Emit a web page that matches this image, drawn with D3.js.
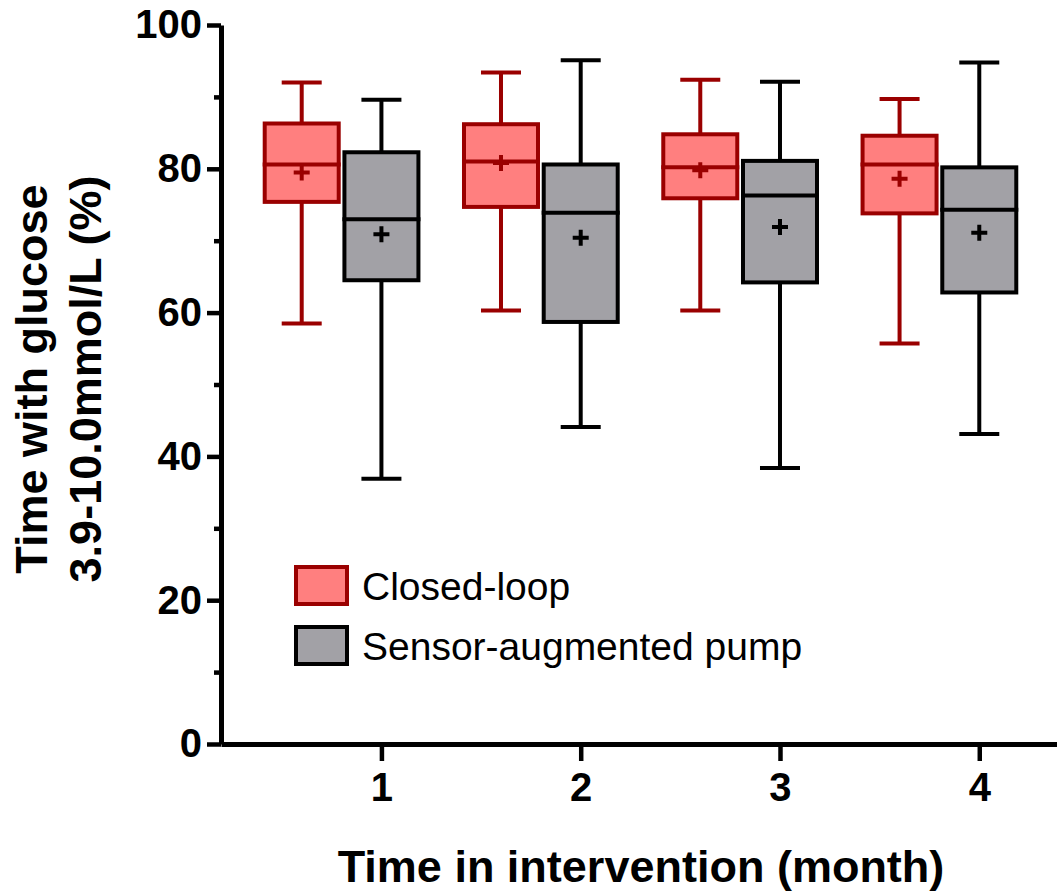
<!DOCTYPE html>
<html>
<head>
<meta charset="utf-8">
<script src="https://cdn.jsdelivr.net/npm/d3@7"></script>
<style>
  body { margin: 0; background: #fff; }
  svg { display: block; font-family: "Liberation Sans", Arial, sans-serif; }
</style>
</head>
<body>
<svg id="chart" width="1057" height="894"></svg>
<script>
const months = [1, 2, 3, 4];

// closed-loop boxes
const closedMin = [58.5, 60.3, 60.3, 55.7];
const closedQ1 = [75.4, 74.7, 75.9, 73.8];
const closedMedian = [80.6, 81.0, 80.2, 80.6];
const closedQ3 = [86.3, 86.2, 84.8, 84.6];
const closedMax = [92.0, 93.4, 92.4, 89.7];
const closedMean = [79.5, 80.8, 79.8, 78.6];

// sensor-augmented pump boxes
const sapMin = [36.9, 44.1, 38.4, 43.1];
const sapQ1 = [64.5, 58.7, 64.2, 62.8];
const sapMedian = [73.0, 73.9, 76.3, 74.3];
const sapQ3 = [82.3, 80.6, 81.1, 80.2];
const sapMax = [89.6, 95.1, 92.1, 94.8];
const sapMean = [70.9, 70.4, 71.9, 71.1];

const yMajor = [0, 20, 40, 60, 80, 100];
const yMinor = [10, 30, 50, 70, 90];
const legendLabels = ['Closed-loop', 'Sensor-augmented pump'];

const width = 1057;
const svg = d3.select('#chart');

const x = d3.scaleLinear().domain([0.195, 4.39]).range([221, width]);
const y = d3.scaleLinear().domain([0, 100]).range([744, 25]);

const series = [
  { name: legendLabels[0], shift: -0.4, fill: '#ff7f7f', stroke: '#9a0000',
    min: closedMin, q1: closedQ1, med: closedMedian, q3: closedQ3, max: closedMax, mean: closedMean },
  { name: legendLabels[1], shift: 0, fill: '#a2a1a6', stroke: '#000',
    min: sapMin, q1: sapQ1, med: sapMedian, q3: sapQ3, max: sapMax, mean: sapMean }
];

const boxW = 74;
const capW = 40;
const lw = 4;

series.forEach(s => {
  const g = svg.append('g');
  months.forEach((m, i) => {
    const cx = x(m + s.shift);
    // whiskers
    g.append('line')
      .attr('x1', cx).attr('x2', cx)
      .attr('y1', y(s.max[i])).attr('y2', y(s.min[i]))
      .attr('stroke', s.stroke).attr('stroke-width', lw);
    [s.max[i], s.min[i]].forEach(v => {
      g.append('line')
        .attr('x1', cx - capW / 2).attr('x2', cx + capW / 2)
        .attr('y1', y(v)).attr('y2', y(v))
        .attr('stroke', s.stroke).attr('stroke-width', lw);
    });
    // box
    g.append('rect')
      .attr('x', cx - boxW / 2).attr('width', boxW)
      .attr('y', y(s.q3[i])).attr('height', y(s.q1[i]) - y(s.q3[i]))
      .attr('fill', s.fill).attr('stroke', s.stroke).attr('stroke-width', lw);
    // median
    g.append('line')
      .attr('x1', cx - boxW / 2 - 2).attr('x2', cx + boxW / 2 + 2)
      .attr('y1', y(s.med[i])).attr('y2', y(s.med[i]))
      .attr('stroke', s.stroke).attr('stroke-width', lw);
    // mean marker
    const my = y(s.mean[i]);
    g.append('path')
      .attr('d', `M${cx - 8},${my}H${cx + 8}M${cx},${my - 8}V${my + 8}`)
      .attr('stroke', s.stroke).attr('stroke-width', lw).attr('fill', 'none');
  });
});

// y axis
const yAxis = svg.append('g')
  .attr('transform', 'translate(221,0)')
  .call(d3.axisLeft(y).tickValues(yMajor).tickSize(14).tickSizeOuter(0).tickPadding(5));
yAxis.select('.domain').attr('stroke-width', 5);
yAxis.selectAll('.tick line').attr('stroke-width', 4.5);
yAxis.selectAll('.tick text')
  .attr('font-size', 40).attr('font-weight', 'bold').attr('fill', '#000')
  .attr('font-family', '"Liberation Sans", Arial, sans-serif');

const yMinorAxis = svg.append('g')
  .attr('transform', 'translate(221,0)')
  .call(d3.axisLeft(y).tickValues(yMinor).tickSize(7).tickSizeOuter(0).tickFormat(''));
yMinorAxis.select('.domain').remove();
yMinorAxis.selectAll('.tick line').attr('stroke-width', 4.5);

// x axis
const xAxis = svg.append('g')
  .attr('transform', 'translate(0,744)')
  .call(d3.axisBottom(x).tickValues(months).tickSize(17).tickSizeOuter(0).tickPadding(12)
    .tickFormat(d3.format('d')));
xAxis.select('.domain').attr('stroke-width', 5);
xAxis.selectAll('.tick line').attr('stroke-width', 4.5);
xAxis.selectAll('.tick text')
  .attr('font-size', 40).attr('font-weight', 'bold').attr('fill', '#000')
  .attr('font-family', '"Liberation Sans", Arial, sans-serif');

// axis titles
svg.append('text')
  .attr('x', 641).attr('y', 882)
  .attr('text-anchor', 'middle')
  .attr('font-size', 45).attr('font-weight', 'bold')
  .text('Time in intervention (month)');

const yTitle = svg.append('text')
  .attr('transform', 'translate(47,379)rotate(-90)')
  .attr('text-anchor', 'middle')
  .attr('font-size', 45).attr('font-weight', 'bold');
yTitle.append('tspan').attr('x', 0).attr('y', 0).text('Time with glucose');
yTitle.append('tspan').attr('x', 0).attr('y', 54).text('3.9-10.0mmol/L (%)');

// legend
const legend = svg.append('g').attr('transform', 'translate(296,567)');
series.forEach((s, i) => {
  const row = legend.append('g').attr('transform', `translate(0,${i * 60})`);
  row.append('rect')
    .attr('width', 51).attr('height', 37)
    .attr('fill', s.fill).attr('stroke', s.stroke).attr('stroke-width', lw);
  row.append('text')
    .attr('x', 66).attr('y', 33)
    .attr('font-size', 39)
    .text(s.name);
});
</script>
</body>
</html>
